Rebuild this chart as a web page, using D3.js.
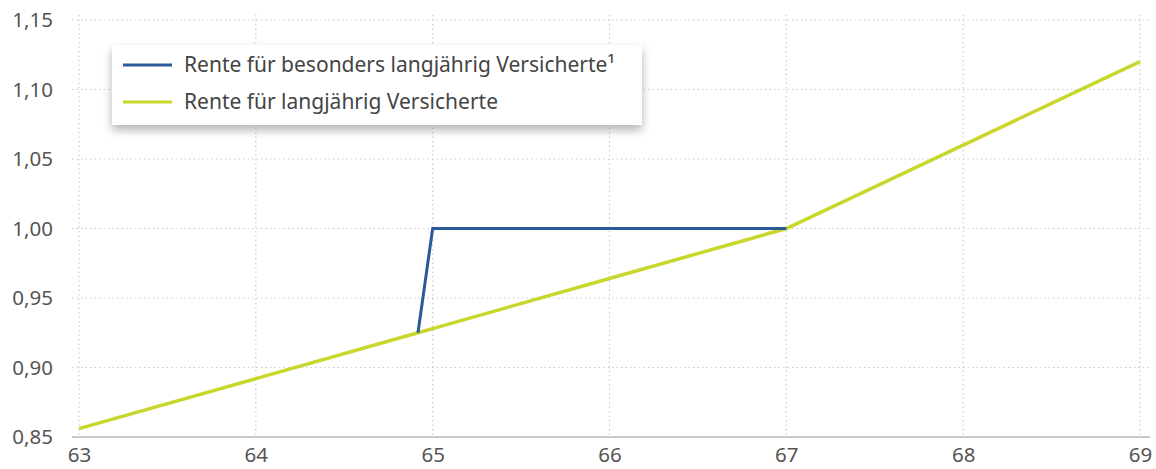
<!DOCTYPE html>
<html>
<head>
<style>
  body{
    margin: 0;
    background: #fff;
    font-family: 'Noto Sans', sans-serif;
  }
</style>
</head>
<body>
<svg id='chart'></svg>
<script src="https://cdn.jsdelivr.net/npm/d3@7/dist/d3.min.js"></script>
<script>

// Zugangsfaktor je Renteneintrittsalter
var xTicks = [63, 64, 65, 66, 67, 68, 69];
var yTicks = [0.85, 0.90, 0.95, 1.00, 1.05, 1.10, 1.15];

var langAge    = [63, 64, 64.917, 65, 66, 67, 68, 69];
var langFactor = [0.856, 0.892, 0.925, 0.928, 0.964, 1.00, 1.06, 1.12];

var besAge    = [64.917, 65, 67];
var besFactor = [0.925, 1.00, 1.00];

var seriesNames = ["Rente für besonders langjährig Versicherte¹", "Rente für langjährig Versicherte"];
var seriesColors = ["#2b5a98", "#c9d62c"];

var width = 1156, height = 469;

var svg = d3.select("#chart")
  .attr("width", width)
  .attr("height", height);

var x = d3.scaleLinear().domain([63, 69]).range([79, 1140]);
var y = d3.scaleLinear().domain([0.85, 1.15]).range([437, 20]);

var fmt = function(d) { return d3.format(".2f")(d).replace(".", ","); };

// grid
svg.append("g")
  .selectAll("line")
  .data(yTicks.slice(1))
  .enter().append("line")
  .attr("x1", 72).attr("x2", 1150)
  .attr("y1", function(d) { return y(d); })
  .attr("y2", function(d) { return y(d); })
  .attr("stroke", "#ccc")
  .attr("stroke-width", 1.2)
  .attr("stroke-dasharray", "1.5,3");

svg.append("g")
  .selectAll("line")
  .data(xTicks)
  .enter().append("line")
  .attr("x1", function(d) { return x(d); })
  .attr("x2", function(d) { return x(d); })
  .attr("y1", 15).attr("y2", 437)
  .attr("stroke", "#ccc")
  .attr("stroke-width", 1.2)
  .attr("stroke-dasharray", "1.5,3");

// axes
var yAxis = svg.append("g")
  .attr("transform", "translate(72,0)")
  .call(d3.axisLeft(y).tickValues(yTicks).tickFormat(fmt).tickSize(0).tickPadding(19));
yAxis.select(".domain").remove();

var xAxis = svg.append("g")
  .attr("transform", "translate(0,437)")
  .call(d3.axisBottom(x).tickValues(xTicks).tickFormat(d3.format("d")).tickSize(0).tickPadding(10));
xAxis.select(".domain").remove();

svg.append("line")
  .attr("x1", 72).attr("x2", 1150)
  .attr("y1", 437).attr("y2", 437)
  .attr("stroke", "#c8c8c8")
  .attr("stroke-width", 2);

svg.selectAll(".tick text")
  .style("font-family", "'Noto Sans', sans-serif")
  .style("font-size", "20.5px")
  .style("fill", "#555");

// lines
var line = d3.line()
  .x(function(d) { return x(d[0]); })
  .y(function(d) { return y(d[1]); });

svg.append("path")
  .datum(d3.zip(langAge, langFactor))
  .attr("d", line)
  .attr("fill", "none")
  .attr("stroke", seriesColors[1])
  .attr("stroke-width", 3.5);

svg.append("path")
  .datum(d3.zip(besAge, besFactor))
  .attr("d", line)
  .attr("fill", "none")
  .attr("stroke", seriesColors[0])
  .attr("stroke-width", 3);

// legend
var defs = svg.append("defs");
var filter = defs.append("filter").attr("id", "shadow")
  .attr("x", "-10%").attr("y", "-30%").attr("width", "120%").attr("height", "170%");
filter.append("feDropShadow")
  .attr("dx", 0).attr("dy", 5).attr("stdDeviation", 5)
  .attr("flood-color", "#000").attr("flood-opacity", 0.3);

var legend = svg.append("g").attr("transform", "translate(112,45)");
legend.append("rect")
  .attr("width", 530).attr("height", 80)
  .attr("fill", "#fff")
  .attr("filter", "url(#shadow)");

seriesNames.forEach(function(name, i) {
  var ly = 20 + i * 37;
  legend.append("line")
    .attr("x1", 11).attr("x2", 60)
    .attr("y1", ly).attr("y2", ly)
    .attr("stroke", seriesColors[i])
    .attr("stroke-width", 3);
  legend.append("text")
    .attr("x", 72).attr("y", ly)
    .attr("dy", "0.35em")
    .style("font-size", "21px")
    .style("fill", "#444")
    .text(name);
});

</script>
</body>
</html>
